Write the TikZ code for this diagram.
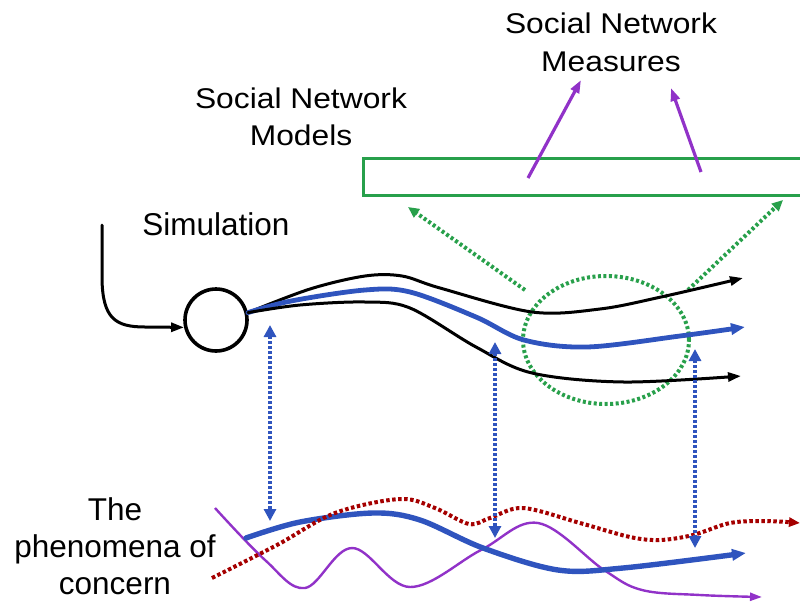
\documentclass[tikz,border=0pt]{standalone}
\usepackage{fontspec}
\setmainfont{Liberation Sans}
\usetikzlibrary{arrows.meta,shapes.geometric}
\definecolor{cblue}{RGB}{47,84,190}
\definecolor{cgreen}{RGB}{40,160,75}
\definecolor{cpurple}{RGB}{145,50,200}
\definecolor{cred}{RGB}{165,0,0}
\newcommand{\wide}[1]{\scalebox{1.115}[1]{#1}}
\begin{document}
\begin{tikzpicture}[x=1pt,y=-1pt,
  lbl/.style={inner sep=0pt, align=center, font=\fontsize{28.5}{38}\selectfont},
  lblbig/.style={inner sep=0pt, align=center, font=\fontsize{31.5}{37}\selectfont},
  blk/.style={line width=3pt, black, line cap=round, line join=round},
  blkarrow/.style={blk, -{Triangle[length=13pt,width=9pt]}},
  bluethick/.style={line width=4.8pt, cblue, line cap=round, -{Triangle[length=14pt,width=11pt]}},
  purp/.style={line width=2.4pt, cpurple, -{Triangle[length=12pt,width=8pt]}},
  purpbig/.style={line width=3.2pt, cpurple, -{Triangle[length=13pt,width=9pt]}},
  gdot/.style={line width=4pt, cgreen, dash pattern=on 3pt off 2.5pt},
  garrow/.style={gdot, -{Triangle[length=11pt,width=10pt]}},
  vdot/.style={line width=4.3pt, cblue, dash pattern=on 3pt off 2pt,
    {Triangle[length=12pt,width=12pt]}-{Triangle[length=12pt,width=12pt]}},
  rdot/.style={line width=4pt, cred, dash pattern=on 3.5pt off 2.5pt,
    -{Triangle[length=11pt,width=9pt]}},
]
\useasboundingbox (0,0) rectangle (800,603);

% labels
\node[lbl] (measures) at (611,42.5) {\wide{Social Network}\\\wide{Measures}};
\node[lbl, font=\fontsize{28.5}{37}\selectfont] (models) at (301,116.5) {\wide{Social Network}\\\wide{Models}};
\node[lblbig, font=\fontsize{31.5}{37}\selectfont] (simlabel) at (216,224) {Simulation};
\node[lblbig] (phen) at (115,546.5) {The\\phenomena of\\concern};

% green model box
\node[draw=cgreen, line width=3pt, minimum width=460pt, minimum height=37pt,
      inner sep=0pt, anchor=north west] (box) at (362,157) {};

% purple arrows to measures
\coordinate (p1s) at (528,178); \coordinate (p1e) at (581,80);
\coordinate (p2s) at (701,172); \coordinate (p2e) at (671,88);
\draw[purpbig] (p1s) -- (p1e);
\draw[purpbig] (p2s) -- (p2e);

% green focus ellipse and arrows
\node[ellipse, draw=none, minimum width=166pt, minimum height=128pt, inner sep=0pt] (focus) at (606,340) {};
\draw[gdot] (focus.center) ellipse [x radius=83pt, y radius=64pt];
\coordinate (g1s) at (525,290); \coordinate (g1e) at (408,207);
\coordinate (g2s) at (688,290); \coordinate (g2e) at (783,200);
\draw[garrow] (g1s) -- (g1e);
\draw[garrow] (g2s) -- (g2e);

% simulation circle and input
\node[circle, draw, line width=3.6pt, minimum size=62pt, inner sep=0pt] (sim) at (216,320) {};
\coordinate (in0) at (102,225);
\draw[blkarrow] (in0) -- (102,280) .. controls (103,318) and (115,327) .. (145,327) -- (sim.193);

% upper trajectories
\draw[blkarrow] plot[smooth, tension=0.55] coordinates {(sim.13) (310,289) (365,276) (402,276) (440,288) (532,312) (600,309) (661,297) (743,278)};
\draw[bluethick] plot[smooth, tension=0.55] coordinates {(sim.13) (291,301) (365,290) (410,292) (476,317) (524,340) (587,347) (680,336) (745,327)};
\draw[blkarrow] plot[smooth, tension=0.55] coordinates {(sim.13) (300,305) (365,302) (410,308) (476,347) (532,373) (624,382) (741,376)};

% lower trajectories
\draw[purp] plot[smooth, tension=0.6] coordinates {(215,508) (265,560) (305,588) (352,548) (410,587) (481,550) (538,523) (604,570) (642,590) (700,595) (762,597)};
\draw[bluethick, line width=5.4pt] plot[smooth, tension=0.55] coordinates {(246,538) (300,522) (373,513) (420,520) (483,548) (558,570) (623,568) (746,553)};
\draw[rdot] plot[smooth, tension=0.55] coordinates {(212,578) (277,545) (335,513) (400,499) (435,508) (469,524) (490,518) (523,508) (580,523) (630,537) (660,540) (693,535) (730,523) (765,521) (800,523)};

% correspondences
\coordinate (v1t) at (270,325); \coordinate (v1b) at (270,521);
\coordinate (v2t) at (495,342); \coordinate (v2b) at (495,538);
\coordinate (v3t) at (695,349); \coordinate (v3b) at (695,548);
\draw[vdot] (v1t) -- (v1b);
\draw[vdot] (v2t) -- (v2b);
\draw[vdot] (v3t) -- (v3b);
\end{tikzpicture}
\end{document}
